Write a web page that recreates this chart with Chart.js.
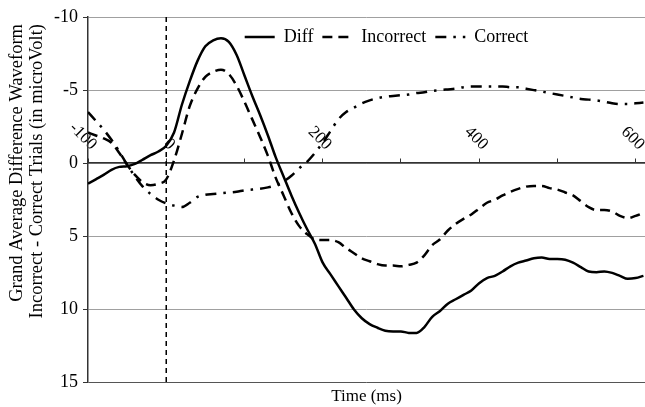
<!DOCTYPE html>
<html>
<head>
<meta charset="utf-8">
<style>
  html, body { margin: 0; padding: 0; background: #ffffff; }
  #wrap { width: 645px; height: 407px; }
</style>
<script src="https://cdn.jsdelivr.net/npm/chart.js@4.4.1/dist/chart.umd.min.js"></script>
</head>
<body>
<div id="wrap"><canvas id="chart" width="645" height="407"></canvas></div>
<script>
// ---- data ----
const times = [-100, -90, -80, -70, -60, -50, -40, -30, -20, -10,
  0, 10, 20, 30, 40, 50, 60, 70, 80, 90,
  100, 110, 120, 130, 140, 150, 160, 170, 180, 190,
  200, 210, 220, 230, 240, 250, 260, 270, 280, 290,
  300, 310, 320, 330, 340, 350, 360, 370, 380, 390,
  400, 410, 420, 430, 440, 450, 460, 470, 480, 490,
  500, 510, 520, 530, 540, 550, 560, 570, 580, 590,
  600, 610];

const diffValues = [1.4, 1.1, 0.8, 0.45, 0.25, 0.2, 0.05, -0.25, -0.55, -0.8,
  -1.2, -2.1, -4.0, -5.6, -7.0, -8.0, -8.4, -8.55, -8.3, -7.4,
  -6.0, -4.6, -3.3, -1.9, -0.4, 0.9, 2.2, 3.4, 4.5, 5.5,
  6.8, 7.6, 8.4, 9.2, 10.0, 10.6, 11.0, 11.25, 11.45, 11.5,
  11.5, 11.6, 11.6, 11.2, 10.5, 10.1, 9.6, 9.3, 9.0, 8.7,
  8.2, 7.85, 7.7, 7.4, 7.05, 6.8, 6.65, 6.5, 6.45, 6.55,
  6.55, 6.6, 6.8, 7.1, 7.4, 7.45, 7.4, 7.5, 7.7, 7.9,
  7.85, 7.7];

const incorrectValues = [-2.1, -1.9, -1.7, -1.4, -0.7, 0.1, 0.8, 1.3, 1.5, 1.4,
  1.1, -0.2, -2.0, -3.9, -5.1, -5.9, -6.25, -6.4, -6.1, -5.3,
  -4.2, -3.0, -1.8, -0.5, 1.0, 2.2, 3.4, 4.3, 4.85, 5.2,
  5.25, 5.25, 5.4, 5.8, 6.15, 6.5, 6.7, 6.9, 7.0, 7.0,
  7.05, 6.95, 6.8, 6.3, 5.6, 5.2, 4.6, 4.15, 3.8, 3.5,
  3.1, 2.7, 2.5, 2.2, 1.95, 1.75, 1.6, 1.55, 1.55, 1.7,
  1.8, 2.0, 2.2, 2.6, 3.0, 3.2, 3.2, 3.3, 3.6, 3.75,
  3.6, 3.4];

const correctValues = [-3.5, -2.9, -2.3, -1.6, -0.8, 0.1, 0.9, 1.6, 2.1, 2.5,
  2.75, 2.9, 3.0, 2.7, 2.3, 2.15, 2.1, 2.05, 2.0, 1.95,
  1.85, 1.8, 1.75, 1.65, 1.5, 1.25, 0.85, 0.35, -0.1, -0.7,
  -1.4, -2.2, -3.0, -3.5, -3.8, -4.1, -4.3, -4.45, -4.55, -4.6,
  -4.65, -4.7, -4.8, -4.85, -4.95, -5.0, -5.05, -5.1, -5.2, -5.25,
  -5.25, -5.25, -5.25, -5.25, -5.2, -5.2, -5.1, -5.0, -4.9, -4.8,
  -4.7, -4.6, -4.5, -4.4, -4.35, -4.3, -4.2, -4.1, -4.05, -4.05,
  -4.1, -4.15];

const seriesNames = ['Diff', 'Incorrect', 'Correct'];
const xTickLabels = [-100, 0, 200, 400, 600];
const onsetTime = 0;
const yMin = -10, yMax = 15, yStep = 5;
const xMin = -100, xMax = 612, xStep = 100;
const yTitle = ['Grand Average Difference Waveform', 'Incorrect - Correct Trials (in microVolt)'];
const xTitle = 'Time (ms)';

// ---- build ----
function toXY(vals) { return times.map((t, i) => ({ x: t, y: vals[i] })); }
const FONT = "'Liberation Serif', 'Times New Roman', serif";

// legend drawn as one horizontal row inside the plot area, near its top
const legendInside = {
  id: 'legendInside',
  beforeInit(chart) {
    if (chart.legend) chart.legend.isHorizontal = () => true;
  },
  beforeLayout(chart) {
    if (chart.legend) chart.legend.isHorizontal = () => true;
  },
  afterLayout(chart) {
    const l = chart.legend, ca = chart.chartArea;
    if (l) {
      l.left = ca.left + 20;
      l.right = ca.right + 20;
      l.top = ca.top + 2;
      l.width = l.right - l.left;
    }
    const t = chart.scales.yTitleAxis;
    if (t) { t.top += 7; t.bottom += 7; }
  }
};

new Chart(document.getElementById('chart'), {
  type: 'line',
  data: {
    datasets: [
      { label: seriesNames[0], data: toXY(diffValues), borderColor: '#000', borderWidth: 2.5, borderDash: [] },
      { label: seriesNames[1], data: toXY(incorrectValues), borderColor: '#000', borderWidth: 2.5, borderDash: [10, 6] },
      { label: seriesNames[2], data: toXY(correctValues), borderColor: '#000', borderWidth: 2.5, borderDash: [11, 7, 2.5, 7] },
      { label: 'onset', data: [{ x: onsetTime, y: yMin }, { x: onsetTime, y: yMax }], borderColor: '#000', borderWidth: 1.5, borderDash: [5, 4], cubicInterpolationMode: 'default', tension: 0 }
    ]
  },
  options: {
    responsive: false,
    animation: false,
    devicePixelRatio: 1,
    layout: { padding: { top: 17, left: 0, right: 0, bottom: 0 } },
    elements: {
      point: { radius: 0, hoverRadius: 0 },
      line: { fill: false, cubicInterpolationMode: 'monotone', borderCapStyle: 'butt' }
    },
    scales: {
      x: {
        type: 'linear', min: xMin, max: xMax, position: { y: 0 },
        ticks: {
          stepSize: xStep, includeBounds: false, autoSkip: false,
          minRotation: -45, maxRotation: -45, padding: -18, labelOffset: 6,
          font: { family: FONT, size: 17 }, color: '#000',
          callback: v => xTickLabels.includes(v) ? String(v) : ''
        },
        grid: { display: true, drawOnChartArea: false, drawTicks: true, tickLength: -5, tickColor: '#333', tickWidth: 1 },
        border: { display: true, color: '#333', width: 1.5 }
      },
      y: {
        min: yMin, max: yMax, reverse: true, weight: 0,
        ticks: { stepSize: yStep, padding: 5, font: { family: FONT, size: 18 }, color: '#000' },
        grid: {
          color: c => (c.tick && c.tick.value === yMax) ? '#555' : '#a0a0a0',
          lineWidth: 1, tickLength: 5, tickColor: '#333'
        },
        border: { display: true, color: '#333', width: 1.5 },
        afterFit: s => { s.width = 40; }
      },
      yTitleAxis: {
        type: 'linear', position: 'left', weight: 1, min: 0, max: 1,
        ticks: { display: false },
        grid: { display: false, drawTicks: false },
        border: { display: false },
        title: { display: true, text: yTitle, align: 'end', color: '#000', font: { family: FONT, size: 18.5, lineHeight: 1.1 }, padding: { top: 7, bottom: 0 } },
        afterFit: s => { s.width = 48; }
      }
    },
    plugins: {
      legend: {
        position: 'chartArea', align: 'center',
        labels: {
          usePointStyle: true, pointStyle: 'line', pointStyleWidth: 30, padding: 9,
          color: '#000', font: { family: FONT, size: 18 },
          filter: item => item.text !== 'onset',
          generateLabels: chart => {
            const items = Chart.defaults.plugins.legend.labels.generateLabels(chart);
            items.forEach(it => {
              const ds = chart.data.datasets[it.datasetIndex];
              it.lineDash = ds.borderDash || [];
              it.lineWidth = ds.borderWidth;
              it.strokeStyle = ds.borderColor;
              it.lineCap = 'butt';
              it.pointStyle = 'line';
            });
            return items;
          }
        }
      },
      title: { display: true, position: 'bottom', text: xTitle, fullSize: false, color: '#000', font: { family: FONT, size: 17, weight: 'normal' }, padding: { top: 4, bottom: 0 } },
      tooltip: { enabled: false }
    }
  },
  plugins: [legendInside]
});
</script>
</body>
</html>
